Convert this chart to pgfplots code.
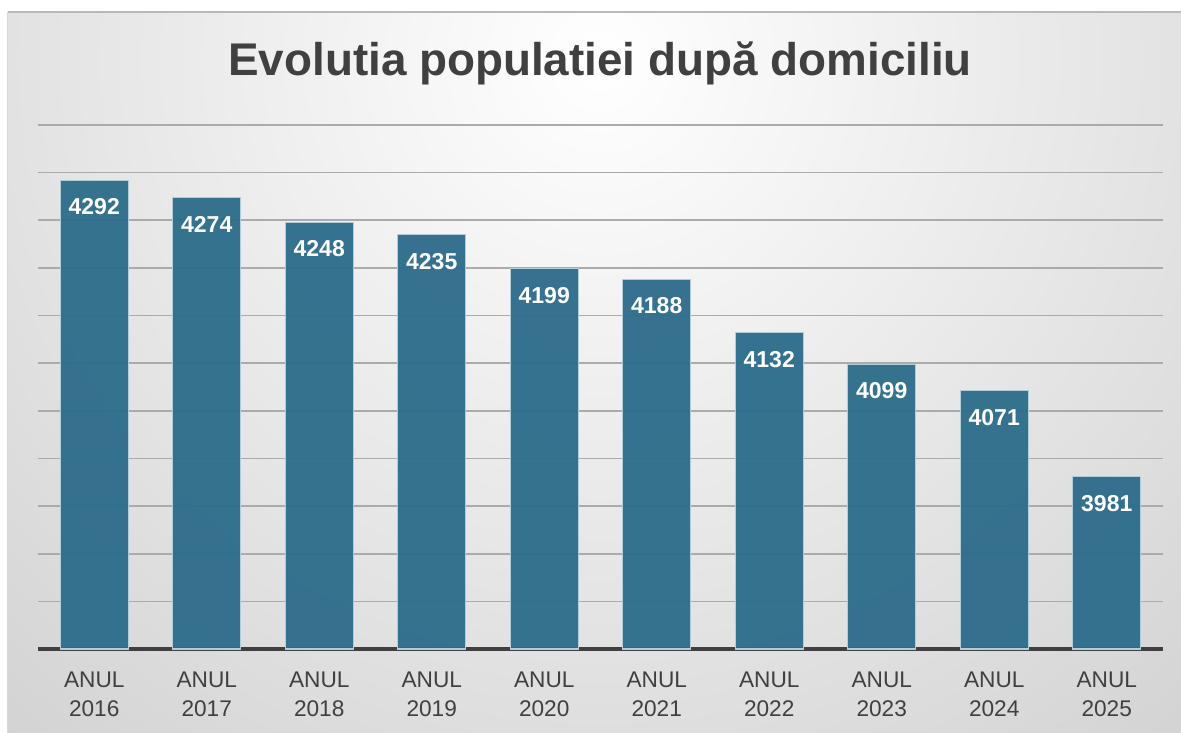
\documentclass[border=0pt]{standalone}
\usepackage{fontspec}
\setmainfont{Liberation Sans}
\usepackage{pgfplots}
\pgfplotsset{compat=1.18}
\definecolor{barfill}{HTML}{2C6C8A}
\definecolor{baredge}{HTML}{B4CCD8}
\definecolor{gridc}{HTML}{ABABAB}
\definecolor{txt}{HTML}{404040}
\begin{document}
\begin{tikzpicture}
\begin{scope}[x=0.6pt, y=-0.6pt, shift={(-22.8pt,389.4pt)}]
  \path[use as bounding box] (0,0) rectangle (1181,733);
  \fill[white] (0,0) rectangle (1181,733);
  \begin{scope}
    \clip (8,12) rectangle (1181,733);
    \fill[gray!48] (8,12) rectangle (1181,733);
    \shade[inner color=white, outer color=gray!48] (600,60) circle (1250);
  \end{scope}
  \draw[gray!55, line width=0.8pt] (8,12) -- (1181,12);
  \draw[gray!30, line width=0.6pt] (8,12) -- (8,733);
  \node[anchor=base, font=\bfseries\fontsize{27.5}{32}\selectfont, text=txt] at (600,76) {Evolutia populatiei după domiciliu};
\end{scope}
\begin{axis}[
  at={(0,0)}, anchor=south west,
  scale only axis,
  width=675pt, height=314.4pt,
  xmin=-0.5, xmax=9.5,
  ymin=3800, ymax=4350,
  ytick={3850,3900,...,4350},
  yticklabels={},
  major y tick style={draw=none},
  ymajorgrids,
  major grid style={gridc, line width=1pt},
  extra y ticks={3800},
  extra y tick labels={},
  extra y tick style={grid=major, major grid style={txt, line width=2.4pt}, tick style={draw=none}},
  axis line style={draw=none},
  xtick=data,
  xtick style={draw=none},
  xticklabels={{ANUL\\2016},{ANUL\\2017},{ANUL\\2018},{ANUL\\2019},{ANUL\\2020},{ANUL\\2021},{ANUL\\2022},{ANUL\\2023},{ANUL\\2024},{ANUL\\2025}},
  xticklabel style={align=center, font=\fontsize{13.6}{17.4}\selectfont, text=txt, yshift=-6pt},
  ybar, bar width=40.8pt,
  nodes near coords={\pgfmathprintnumber[1000 sep={},assume math mode=true]{\pgfplotspointmeta}},
  every node near coord/.append style={anchor=center, yshift=-16pt, font=\bfseries\fontsize{13.8}{16}\selectfont, text=white},
  axis on top=false,
  clip=false,
]
\addplot[fill=barfill, fill opacity=0.95, draw=baredge, line width=0.7pt, text opacity=1] coordinates {
(0,4292) (1,4274) (2,4248) (3,4235) (4,4199) (5,4188) (6,4132) (7,4099) (8,4071) (9,3981)};
\end{axis}
\end{tikzpicture}
\end{document}
